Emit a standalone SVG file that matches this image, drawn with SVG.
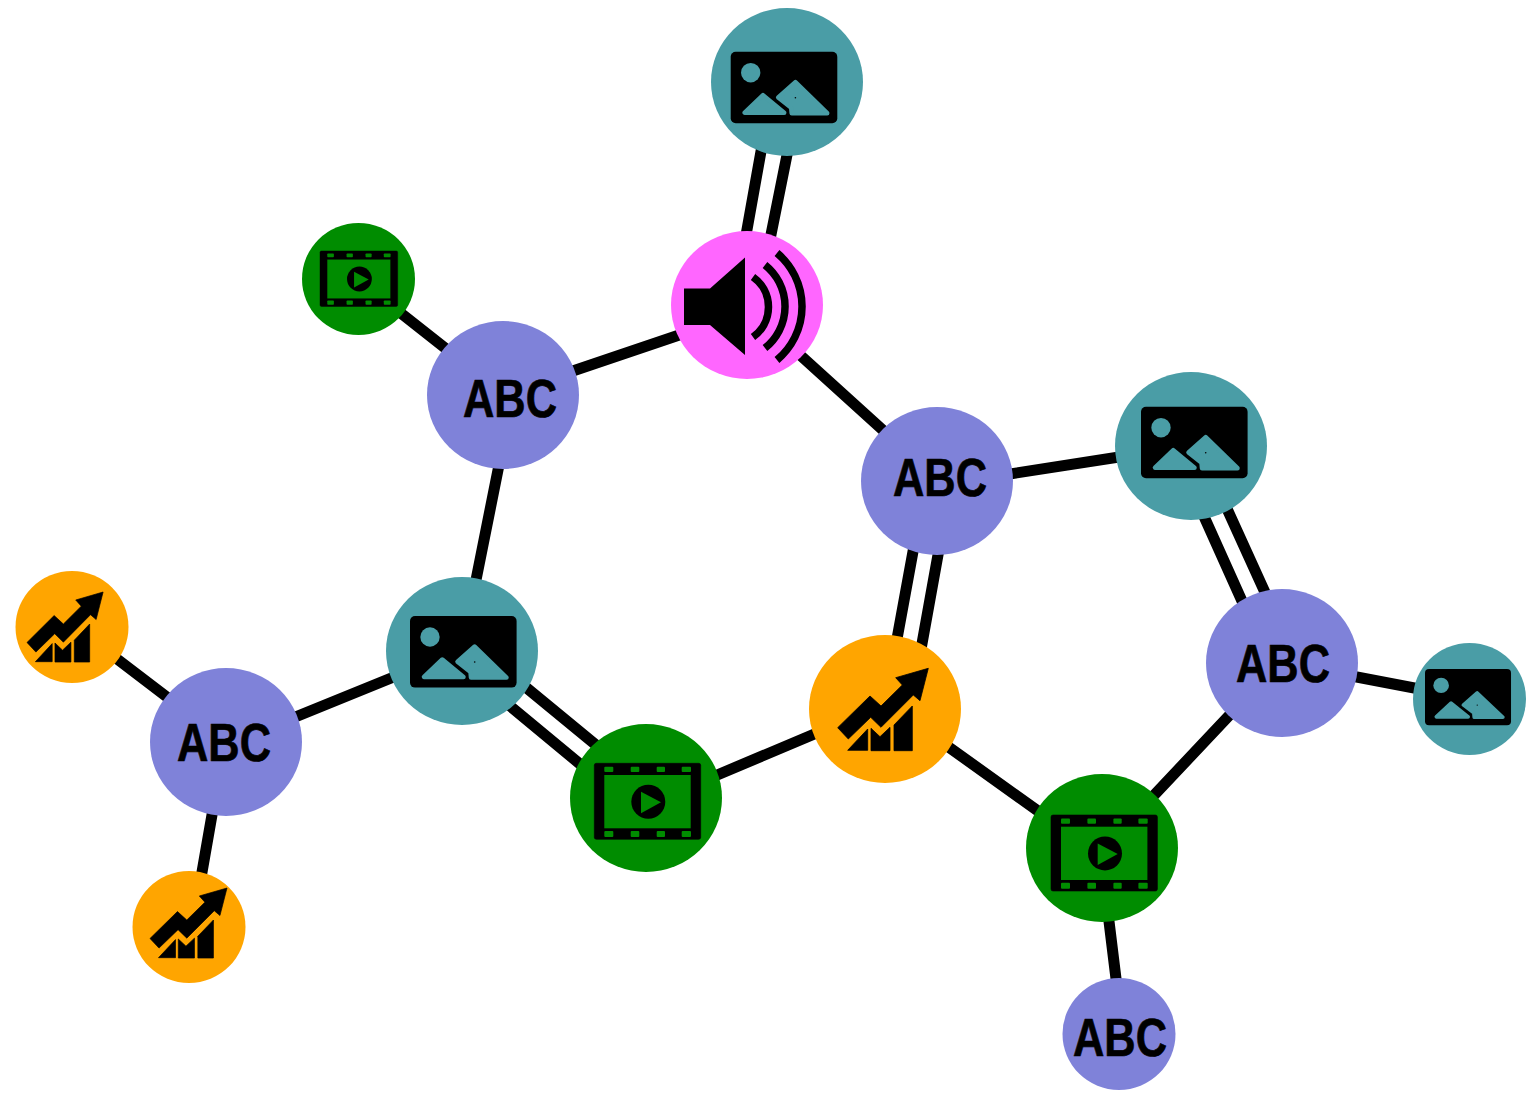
<svg xmlns="http://www.w3.org/2000/svg" width="1529" height="1096" viewBox="0 0 1529 1096">
<style>
.e{stroke:#000;stroke-width:11;fill:none}
.t{fill:#4A9DA6}.p{fill:#7F82D9}.g{fill:#008C00}.o{fill:#FFA500}.m{fill:#FF66FF}
.l{font-family:"Liberation Sans",Arial,sans-serif;font-weight:bold;font-size:53px;fill:#000;stroke:#000;stroke-width:.7}
</style>
<defs>
<g id="img">
<rect width="106.6" height="71.6" rx="5" fill="#000"/>
<circle cx="20" cy="21" r="9.700" fill="#4A9DA6"/>
<path d="M32.300 43.500L14 61H53.500Z" fill="#4A9DA6" stroke="#4A9DA6" stroke-width="4.500" stroke-linejoin="round"/>
<path d="M64.700 30.500L47.500 45.800L60.500 56L61 61.500H96.500Z" fill="#4A9DA6" stroke="#4A9DA6" stroke-width="4.500" stroke-linejoin="round"/>
<circle cx="64.700" cy="46" r=".8" fill="#000"/>
</g>
<g id="film">
<rect width="106.4" height="76" rx="2" fill="#000" stroke="#000" stroke-width=".6"/>
<rect x="10" y="11.700" width="86.400" height="53.300" fill="#008C00"/>
<g fill="#008C00">
<rect x="10" y="3.400" width="9" height="5.300" rx="1"/><rect x="36.400" y="3.400" width="8.600" height="5.300" rx="1"/><rect x="62.400" y="3.400" width="8.300" height="5.300" rx="1"/><rect x="87.400" y="3.400" width="9.300" height="5.300" rx="1"/>
<rect x="10" y="67.700" width="9" height="6" rx="1"/><rect x="36.400" y="67.700" width="8.600" height="6" rx="1"/><rect x="62.400" y="67.700" width="8.300" height="6" rx="1"/><rect x="87.400" y="67.700" width="9.300" height="6" rx="1"/>
</g>
<circle cx="54" cy="38.400" r="17" fill="#000"/>
<path d="M46.700 28.400L66.700 39L46.700 50Z" fill="#008C00"/>
</g>
<g id="trend" fill="#000" stroke="#000" stroke-width=".8" stroke-linejoin="round">
<path d="M90.600 0L58 9.400L64.600 16.700L43.300 37.700L32.300 27.700L0 59.400L10.600 70.700L33 49L43.300 59L75.600 26.700L82.300 32.400Z"/>
<path d="M10 82L30 60.700V82Z"/>
<path d="M33.300 82.400V60L42.300 68.400L52.300 59V82.400Z"/>
<path d="M56.300 82.400V56.700L74.600 37.700V82.400Z"/>
</g>
</defs>
<g id="connectors">
<path class="e" d="M388 303L459 359M561 375L694 330M789 345L896 442M501 455L473 595M283 722L406 672M104 649L180 707M214.600 800L199.400 887M997 476L1132 455M1341 674L1430 691M1240 704L1142 808M936 738L1052 821M703 781L831 727M1107 905L1118 995"/>
<path class="e" d="M762.500 143L743.800 247.500M789 145L768.500 247"/>
<path class="e" d="M1196.400 499.500L1249.600 618M1219.400 492L1273 610"/>
<path class="e" d="M916.400 533L894.600 652M941.400 536L919.600 657"/>
<path class="e" d="M509.800 674L611.200 757.600M495 693.500L595 776.500"/>
</g>
<g id="n1"><ellipse class="t" cx="787" cy="82" rx="76" ry="74"/><use href="#img" x="730.700" y="51.700"/></g>
<g id="n2"><ellipse class="m" cx="747" cy="305" rx="76" ry="74"/>
<path d="M684 288.500H710L745 257.500V355L710 325H684Z" fill="#000"/>
<g fill="none" stroke="#000" stroke-width="7.500"><path d="M753 277A36.800 36.800 0 0 1 753 337"/><path d="M765 265A53 53 0 0 1 765 348"/><path d="M777 253A69.700 69.700 0 0 1 777 360"/></g></g>
<g id="n3"><ellipse class="g" cx="358.500" cy="279" rx="56.500" ry="56"/><use href="#film" transform="translate(320 251) scale(.73)"/></g>
<g id="n4"><ellipse class="p" cx="503" cy="395" rx="76" ry="74"/><text class="l" x="463" y="416.500" textLength="94" lengthAdjust="spacingAndGlyphs">ABC</text></g>
<g id="n5"><ellipse class="p" cx="937" cy="481" rx="76" ry="74"/><text class="l" x="893" y="495.500" textLength="94" lengthAdjust="spacingAndGlyphs">ABC</text></g>
<g id="n6"><ellipse class="t" cx="1191" cy="446" rx="76" ry="74"/><use href="#img" x="1141" y="406.700"/></g>
<g id="n7"><ellipse class="p" cx="1282" cy="663" rx="76" ry="74"/><text class="l" x="1236" y="682" textLength="94" lengthAdjust="spacingAndGlyphs">ABC</text></g>
<g id="n8"><ellipse class="t" cx="1469.500" cy="699" rx="56.500" ry="56"/><use href="#img" transform="translate(1425 669) scale(.807 .785)"/></g>
<g id="n9"><ellipse class="t" cx="462" cy="651" rx="76" ry="74"/><use href="#img" x="410" y="616"/></g>
<g id="n10"><ellipse class="g" cx="646" cy="798" rx="76" ry="74"/><use href="#film" x="594.300" y="763.300"/></g>
<g id="n11"><ellipse class="o" cx="885" cy="709" rx="76" ry="74"/><use href="#trend" x="837.700" y="668.300"/></g>
<g id="n12"><ellipse class="g" cx="1102" cy="848" rx="76" ry="74"/><use href="#film" x="1051" y="815"/></g>
<g id="n13"><ellipse class="p" cx="1119" cy="1034" rx="56.500" ry="56"/><text class="l" x="1073" y="1056" textLength="94" lengthAdjust="spacingAndGlyphs">ABC</text></g>
<g id="n14"><ellipse class="p" cx="226" cy="742" rx="76" ry="74"/><text class="l" x="177" y="761" textLength="94" lengthAdjust="spacingAndGlyphs">ABC</text></g>
<g id="n15"><ellipse class="o" cx="72" cy="627" rx="56.500" ry="56"/><use href="#trend" transform="translate(27 592) scale(.84 .85)"/></g>
<g id="n16"><ellipse class="o" cx="189" cy="927" rx="56.500" ry="56"/><use href="#trend" transform="translate(150 888) scale(.85)"/></g>
</svg>
